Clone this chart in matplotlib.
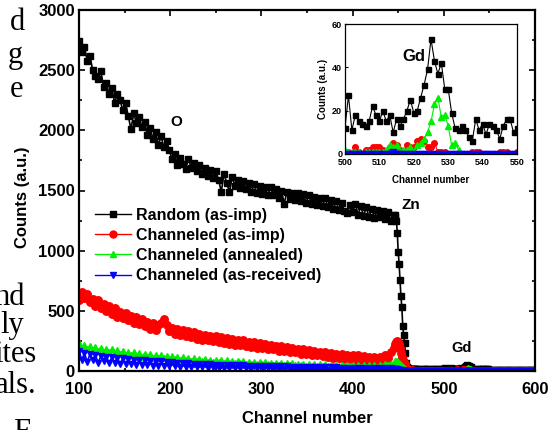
import numpy as np
import matplotlib
matplotlib.use('Agg')
import matplotlib.pyplot as plt
from matplotlib.ticker import MultipleLocator

plt.rcParams['font.family'] = ['Liberation Sans', 'DejaVu Sans']
plt.rcParams['font.weight'] = 'bold'

# channel grid: coarse on the smooth part, every channel at the edge and Gd peak
chan = np.concatenate([np.arange(100, 446, 3),   # 116
                       np.arange(446, 471),      # 25
                       np.arange(471, 500, 2),   # 15
                       np.arange(500, 551),      # 51
                       np.arange(552, 601, 2)])  # 25

random_imp = [
    2740, 2650, 2690, 2580, 2620, 2500, 2450, 2430, 2490, 2360,
    2390, 2300, 2350, 2230, 2300, 2250, 2170, 2230, 2120, 2010,
    2140, 2060, 2110, 2030, 2070, 1960, 2020, 1930, 1990, 1880,
    1950, 1860, 1910, 1840, 1760, 1800, 1710, 1770, 1720, 1680,
    1760, 1690, 1730, 1660, 1710, 1640, 1690, 1620, 1670, 1600,
    1660, 1590, 1490, 1640, 1560, 1490, 1610, 1540, 1590, 1520,
    1580, 1510, 1560, 1490, 1550, 1480, 1540, 1470, 1530, 1460,
    1530, 1460, 1510, 1440, 1500, 1390, 1490, 1430, 1480, 1420,
    1480, 1410, 1470, 1400, 1460, 1390, 1450, 1380, 1440, 1370,
    1440, 1360, 1420, 1350, 1410, 1340, 1400, 1330, 1310, 1380,
    1320, 1390, 1300, 1370, 1290, 1360, 1280, 1350, 1270, 1340,
    1280, 1330, 1260, 1320, 1250, 1300,
    1300, 1280, 1250, 1150, 990, 890, 760, 620, 530, 370,
    300, 230, 150, 65, 35, 25, 20, 18, 16, 15, 14, 15, 13, 14, 12,
    13, 15, 12, 14, 16, 13, 15, 12, 14, 13, 15, 12, 16, 14, 13,
    12, 27, 11, 18, 15, 14, 13, 15, 22, 18,
    15, 20, 15, 18, 10, 16, 13, 16, 20, 25,
    19, 20, 26, 32, 39, 53, 43, 37, 42, 30,
    30, 19, 12, 11, 13, 11, 8, 6, 16, 11,
    14, 9, 14, 13, 11, 7, 13, 16, 16, 10, 12,
    11, 9, 12, 10, 8, 11, 9, 10, 12, 8, 9, 11, 10, 8, 9, 10, 7, 9, 8, 10,
    9, 7, 8, 9, 8]

chan_imp = [
    590, 660, 610, 640, 570, 600, 540, 590, 520, 560,
    500, 540, 470, 520, 450, 490, 440, 480, 420, 460,
    400, 450, 390, 430, 370, 410, 350, 400, 340, 380,
    395, 430, 380, 330, 360, 310, 350, 300, 340, 290,
    330, 280, 320, 270, 310, 260, 300, 255, 295, 250,
    290, 240, 280, 230, 275, 225, 270, 220, 260, 215,
    255, 205, 245, 200, 240, 195, 235, 190, 225, 185,
    220, 180, 210, 170, 205, 165, 200, 160, 195, 155,
    185, 145, 180, 140, 175, 135, 170, 130, 160, 125,
    155, 115, 150, 110, 145, 105, 140, 100, 135, 100,
    130, 95, 130, 90, 125, 90, 120, 85, 120, 85,
    120, 90, 130, 110, 160, 190,
    200, 225, 240, 250, 245, 225, 190, 150, 120, 95,
    75, 55, 40, 28, 20, 14, 10, 8, 6, 5, 4, 4, 3, 3, 3,
    3, 2, 3, 2, 2, 3, 1, 2, 3, 2, 1, 2, 2, 1, 2,
    1, 1, 0, 3, 1, 0, 2, 2, 3, 3,
    3, 2, 1, 3, 5, 4, 2, 1, 4, 3,
    3, 6, 7, 6, 3, 3, 5, 1, 1, 1,
    0, 0, 0, 0, 0, 0, 0, 1, 1, 1,
    0, 0, 0, 0, 0, 1, 1, 1, 0, 0, 1,
    1, 0, 1, 0, 0, 1, 0, 0, 1, 0, 0, 0, 1, 0, 0, 1, 0, 0, 0, 1,
    0, 0, 0, 1, 0]

chan_annealed = [
    230, 190, 215, 180, 205, 175, 200, 165, 195, 160,
    185, 155, 180, 150, 175, 140, 170, 135, 160, 130,
    155, 125, 150, 120, 145, 115, 140, 112, 135, 108,
    130, 105, 125, 100, 122, 96, 118, 92, 115, 90,
    110, 86, 106, 84, 102, 80, 98, 78, 95, 75,
    92, 72, 90, 70, 88, 68, 85, 66, 82, 64,
    80, 62, 78, 60, 76, 58, 74, 56, 72, 55,
    70, 53, 68, 52, 66, 50, 65, 48, 63, 47,
    62, 46, 60, 45, 58, 44, 57, 43, 56, 42,
    55, 41, 54, 40, 53, 39, 52, 38, 51, 38,
    50, 37, 50, 36, 49, 36, 48, 35, 48, 36,
    52, 40, 56, 48, 62, 70,
    75, 80, 85, 82, 78, 70, 60, 50, 40, 30,
    22, 16, 12, 9, 7, 6, 5, 4, 4, 3, 3, 3, 2, 2, 2,
    2, 2, 1, 2, 2, 1, 2, 1, 2, 1, 2, 1, 1, 2, 1,
    2, 1, 1, 1, 1, 0, 1, 1, 1, 1,
    1, 1, 2, 4, 3, 4, 1, 2, 2, 3,
    1, 4, 5, 7, 10, 15, 23, 26, 17, 18,
    13, 4, 5, 2, 0, 0, 0, 0, 0, 0,
    0, 0, 0, 0, 0, 0, 0, 0, 0, 0, 0,
    0, 0, 0, 0, 0, 0, 0, 0, 0, 0, 0, 0, 0, 0, 0, 0, 0, 0, 0, 0,
    0, 0, 0, 0, 0]

chan_received = [
    170, 90, 150, 75, 140, 95, 130, 70, 125, 80,
    120, 65, 115, 70, 110, 60, 105, 55, 100, 60,
    95, 50, 92, 48, 88, 52, 85, 45, 82, 42,
    80, 40, 76, 42, 72, 38, 70, 36, 68, 34,
    65, 32, 62, 34, 60, 30, 58, 28, 56, 30,
    54, 27, 52, 26, 50, 28, 48, 25, 47, 24,
    46, 22, 45, 23, 44, 21, 43, 20, 42, 21,
    41, 19, 40, 18, 39, 19, 38, 17, 37, 16,
    36, 15, 35, 16, 34, 14, 33, 15, 32, 13,
    31, 12, 30, 13, 30, 12, 29, 11, 28, 12,
    28, 10, 27, 11, 26, 10, 26, 9, 25, 10,
    25, 9, 24, 10, 24, 12,
    18, 16, 15, 13, 11, 9, 7, 5, 4, 3,
    2, 2, 1, 1, 1, 0, 0, 0, 0, 0, 0, 0, 0, 0, 0,
    0, 0, 0, 0, 0, 0, 0, 0, 0, 0, 0, 0, 0, 0, 0,
    0, 0, 0, 0, 0, 0, 0, 0, 0, 0,
    0, 0, 0, 0, 1, 0, 0, 0, 0, 0,
    0, 0, 0, 0, 0, 0, 0, 0, 0, 0,
    0, 0, 0, 0, 0, 0, 0, 0, 0, 0,
    0, 0, 0, 0, 0, 0, 0, 0, 0, 0, 0,
    0, 0, 0, 0, 0, 0, 0, 0, 0, 0, 0, 0, 0, 0, 0, 0, 0, 0, 0, 0,
    0, 0, 0, 0, 0]

series = [
    (random_imp, 'k', 's', 'Random (as-imp)'),
    (chan_imp, '#ff0000', 'o', 'Channeled (as-imp)'),
    (chan_annealed, '#00ee00', '^', 'Channeled (annealed)'),
    (chan_received, '#0000ff', 'v', 'Channeled (as-received)'),
]
main_ms = [4.6, 5.4, 5.0, 5.0]

fig = plt.figure(figsize=(5.51, 4.30), dpi=100)
ax = fig.add_axes([79/551, 1 - 371/430, 456/551, 361/430])

for (vals, col, mk, lab), ms in zip(series, main_ms):
    ax.plot(chan, vals, color=col, marker=mk, ms=ms, mec=col, mfc=col,
            lw=1.2, label=lab)

ax.set_xlim(100, 600)
ax.set_ylim(0, 3000)
ax.xaxis.set_major_locator(MultipleLocator(100))
ax.xaxis.set_minor_locator(MultipleLocator(50))
ax.yaxis.set_major_locator(MultipleLocator(500))
ax.yaxis.set_minor_locator(MultipleLocator(250))
ax.tick_params(which='both', direction='in', top=True, right=True, width=1.2,
               labelsize=12)
ax.tick_params(which='major', length=4)
ax.tick_params(which='minor', length=2.5)
ax.tick_params(axis='x', pad=8)
ax.tick_params(axis='y', pad=3)
for s in ax.spines.values():
    s.set_linewidth(1.6)
ax.set_xlabel('Channel number', fontsize=12, fontweight='bold')
ax.set_ylabel('Counts (a.u.)', fontsize=12, fontweight='bold')
ax.xaxis.set_label_coords(0.5, -0.112)
ax.yaxis.set_label_coords(-0.108, 0.482)

leg = ax.legend(loc='upper left', bbox_to_anchor=(0.036, 0.452), frameon=False,
                fontsize=11.5, handlelength=2.25, handletextpad=0.3,
                labelspacing=0.32, borderpad=0, borderaxespad=0, numpoints=1)
for h in leg.legend_handles:
    h.set_linewidth(1)
    h.set_markersize(5)

ax.text(207, 2070, 'O', fontsize=11, ha='center', va='center')
ax.text(464, 1380, 'Zn', fontsize=11, ha='center', va='center')
ax.text(520, 190, 'Gd', fontsize=10.5, ha='center', va='center')

# inset: Gd region
ins = fig.add_axes([345/551, 1 - 154/430, 172/551, 130/430])
inset_ms = [3.6, 4.0, 4.0, 4.0]
for (vals, col, mk, lab), ms in zip(series, inset_ms):
    ins.plot(chan, vals, color=col, marker=mk, ms=ms, mec=col, mfc=col, lw=0.8)
ins.set_xlim(500, 550)
ins.set_ylim(0, 60)
ins.xaxis.set_major_locator(MultipleLocator(10))
ins.yaxis.set_major_locator(MultipleLocator(20))
ins.tick_params(direction='in', length=2, width=0.8, labelsize=6.5, pad=2)
ins.tick_params(axis='x', pad=3)
for s in ins.spines.values():
    s.set_linewidth(0.9)
ins.set_xlabel('Channel number', fontsize=7, fontweight='bold')
ins.set_ylabel('Counts (a.u.)', fontsize=7, fontweight='bold')
ins.xaxis.set_label_coords(0.5, -0.16)
ins.yaxis.set_label_coords(-0.1, 0.5)
ins.text(520, 45, 'Gd', fontsize=12, ha='center', va='center')

# fragments of the surrounding page text
serif = ['Liberation Serif', 'DejaVu Serif']
page_bits = [('d', 25, 30), ('g', 23, 63), ('e', 23, 97),
             ('nd', 25, 305), ('ly', 24, 333), ('ites', 37, 362),
             ('als.', 37, 393), ('F', 30, 440)]
for txt, xr, yb in page_bits:
    fig.text(xr/551, 1 - yb/430, txt, family=serif, fontweight='normal',
             fontsize=22, ha='right', va='baseline')

fig.savefig('out.png', dpi=100)
